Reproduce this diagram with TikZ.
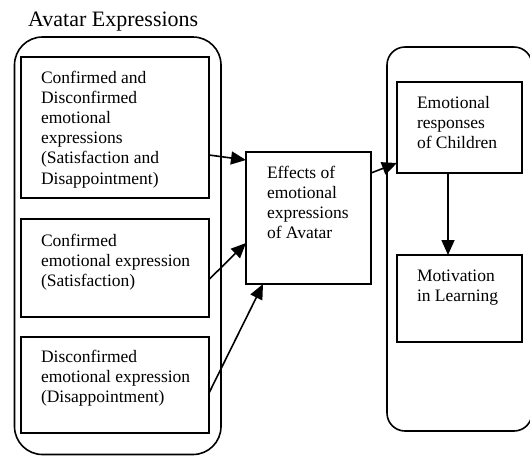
\documentclass[tikz,border=0pt]{standalone}
\usepackage{fontspec}
\setmainfont{Liberation Serif}
\usetikzlibrary{arrows.meta,calc}
\begin{document}
\begin{tikzpicture}[x=1pt,y=-1pt,
  box/.style={draw,line width=1.6pt,rectangle,inner sep=0pt,outer sep=0pt,anchor=north west},
  group/.style={draw,line width=1.6pt,rounded corners=#1},
  txt/.style={inner sep=0pt,outer sep=0pt,anchor=north west,align=left,font=\fontsize{17.5}{20.2}\selectfont},
  conn/.style={line width=1.6pt,-{Triangle[length=15pt,width=13pt]}}]
\useasboundingbox (0,0) rectangle (530,456);
% title
\node[inner sep=0pt,anchor=base west,font=\fontsize{22}{26}\selectfont] (title) at (28,26.5) {Avatar Expressions};
% group outlines
\draw[group=28pt] (14.5,37) rectangle (221,454.5);
\draw[group=18pt] (387,47) rectangle (532,431);
% boxes
\node[box,minimum width=188pt,minimum height=141pt] (b1) at (21,57) {};
\node[box,minimum width=188pt,minimum height=98pt] (b2) at (21,219) {};
\node[box,minimum width=188pt,minimum height=96pt] (b3) at (21,337) {};
\node[box,minimum width=125pt,minimum height=132pt] (eff) at (246,152) {};
\node[box,minimum width=125pt,minimum height=91pt] (er) at (397,82) {};
\node[box,minimum width=125pt,minimum height=87pt] (mot) at (397,255) {};
% texts (first baseline minus strut height 14.14)
\node[txt] (t1) at (41,68.9) {\strut Confirmed and\\Disconfirmed\\emotional\\expressions\\(Satisfaction and\\Disappointment)};
\node[txt] (t2) at (41,231.9) {\strut Confirmed\\emotional expression\\(Satisfaction)};
\node[txt] (t3) at (41,347.9) {\strut Disconfirmed\\emotional expression\\(Disappointment)};
\node[txt] (t4) at (267,163.9) {\strut Effects of\\emotional\\expressions\\of Avatar};
\node[txt] (t5) at (417,93.9) {\strut Emotional\\responses\\of Children};
\node[txt] (t6) at (417,266.9) {\strut Motivation\\in Learning};
% connectors
\draw[conn] ([yshift=-27.5pt]b1.east) -- ([yshift=58pt]eff.west);
\draw[conn] ([yshift=-11.5pt]b2.east) -- ([yshift=-25pt]eff.west);
\draw[conn] ([yshift=-8pt]b3.east) -- ([xshift=-45.5pt]eff.south);
\draw[conn] ([yshift=45pt]eff.east) -- ([yshift=-35.5pt]er.west);
\draw[conn] ([xshift=-11.5pt]er.south) -- ([xshift=-11.5pt]mot.north);
\end{tikzpicture}
\end{document}
